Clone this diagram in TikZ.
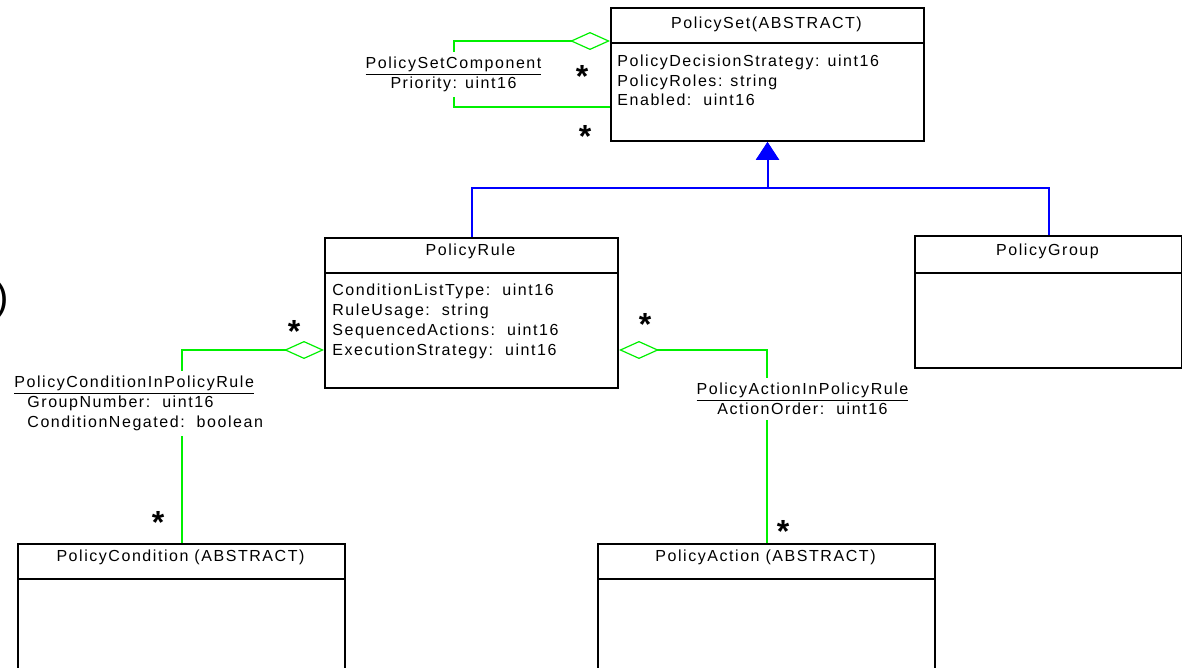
\documentclass[tikz,border=0pt]{standalone}
\usepackage{fontspec}
\setmainfont{Liberation Sans}[LetterSpace=9.7]
\usetikzlibrary{arrows.meta}

\begin{document}
\begin{tikzpicture}[x=1pt, y=-1pt, thick]

  % Define Colors
  \definecolor{agggreen}{RGB}{0,240,0}
  \definecolor{genblue}{RGB}{0,0,255}

  % Node styles
  \tikzstyle{cbox}=[rectangle, draw, line width=2pt, anchor=north west, inner sep=0pt]
  \tikzstyle{ctitle}=[inner sep=0pt, font=\fontsize{16}{19.7}\selectfont]
  \tikzstyle{cattr}=[anchor=north west, align=left, inner sep=0pt, font=\fontsize{16}{19.7}\selectfont]
  \tikzstyle{alabel}=[inner xsep=0pt, inner ysep=5pt, font=\fontsize{16}{19.7}\selectfont]
  \tikzstyle{mult}=[inner sep=0pt, font=\fontsize{32}{32}\selectfont\bfseries]

  \tikzstyle{agg_path}=[line width=2pt, agggreen]
  \tikzstyle{agg_tip}=[{Diamond[open, length=40pt, width=18pt, line width=1.2pt]}-]
  \tikzstyle{gen_path}=[line width=2pt, genblue, -{Triangle[length=18pt, width=23pt]}]

  \useasboundingbox (0,0) rectangle (1182,668);
  \clip (0,0) rectangle (1182,668);

  % Class boxes
  \node[cbox, minimum width=313, minimum height=133] (n_set) at (610,7) {};
  \node[cbox, minimum width=293, minimum height=150] (n_rule) at (324,237) {};
  \node[cbox, minimum width=267, minimum height=132] (n_group) at (914,235) {};
  \node[cbox, minimum width=327, minimum height=200] (n_cond) at (17,543) {};
  \node[cbox, minimum width=337, minimum height=200] (n_act) at (597,543) {};

  % Dividers
  \draw[line width=2pt] ([yshift=-36pt]n_set.north west) -- ([yshift=-36pt]n_set.north east);
  \draw[line width=2pt] ([yshift=-36pt]n_rule.north west) -- ([yshift=-36pt]n_rule.north east);
  \draw[line width=2pt] ([yshift=-38pt]n_group.north west) -- ([yshift=-38pt]n_group.north east);
  \draw[line width=2pt] ([yshift=-36pt]n_cond.north west) -- ([yshift=-36pt]n_cond.north east);
  \draw[line width=2pt] ([yshift=-36pt]n_act.north west) -- ([yshift=-36pt]n_act.north east);

  % Titles
  \node[ctitle] (n_set_t) at (766.5,24) {PolicySet(ABSTRACT)};
  \node[ctitle] (n_rule_t) at (470.5,251) {PolicyRule};
  \node[ctitle] (n_group_t) at (1047.5,251) {PolicyGroup};
  \node[ctitle] (n_cond_t) at (180.5,557) {PolicyCondition (ABSTRACT)};
  \node[ctitle] (n_act_t) at (765.5,557) {PolicyAction (ABSTRACT)};

  % Attributes
  \node[cattr] (n_set_a) at (617,54.5) {PolicyDecisionStrategy: uint16\\PolicyRoles: string\\Enabled:\ \ uint16};
  \node[cattr] (n_rule_a) at (332,284) {ConditionListType:\ \ uint16\\RuleUsage:\ \ string\\SequencedActions:\ \ uint16\\ExecutionStrategy:\ \ uint16};

  % Association labels
  \node[alabel, anchor=north, align=center] (n_psc) at (453.5,52) {\underline{PolicySetComponent}\\Priority: uint16};
  \node[alabel, anchor=north west, align=left] (n_pcr) at (14,371) {\underline{PolicyConditionInPolicyRule}\\\hspace*{13pt}GroupNumber:\ \ uint16\\\hspace*{13pt}ConditionNegated:\ \ boolean};
  \node[alabel, anchor=north, align=center] (n_par) at (802.5,378) {\underline{PolicyActionInPolicyRule}\\ActionOrder:\ \ uint16};

  % Aggregation links
  \draw[agg_path, agg_tip] ([yshift=-34pt]n_set.north west) -| (n_psc.north);
  \draw[agg_path] (n_psc.south) |- ([yshift=-100pt]n_set.north west);
  \draw[agg_path, agg_tip] ([yshift=-113pt]n_rule.north west) -| (n_pcr.north -| n_cond.north);
  \draw[agg_path] (n_pcr.south -| n_cond.north) -- (n_cond.north);
  \draw[agg_path, agg_tip] ([yshift=-113pt]n_rule.north east) -| (n_par.north -| n_act.north);
  \draw[agg_path] (n_par.south -| n_act.north) -- (n_act.north);

  % Generalization links
  \draw[gen_path] (n_rule.north) -- ++(0,-49) -| (n_set.south);
  \draw[gen_path] (n_group.north) -- ++(0,-47) -| (n_set.south);

  % Multiplicities
  \node[mult] (m_psc_1) at (582,76) {*};
  \node[mult] (m_psc_2) at (585,136) {*};
  \node[mult] (m_pcr_1) at (294,331) {*};
  \node[mult] (m_pcr_2) at (158,522) {*};
  \node[mult] (m_par_1) at (645,324) {*};
  \node[mult] (m_par_2) at (783,531) {*};

  % Cut-off text at the left edge
  \node[anchor=base west, inner sep=0pt, font=\fontsize{40}{40}\selectfont] (n_paren) at (-5,310) {)};

\end{tikzpicture}
\end{document}
